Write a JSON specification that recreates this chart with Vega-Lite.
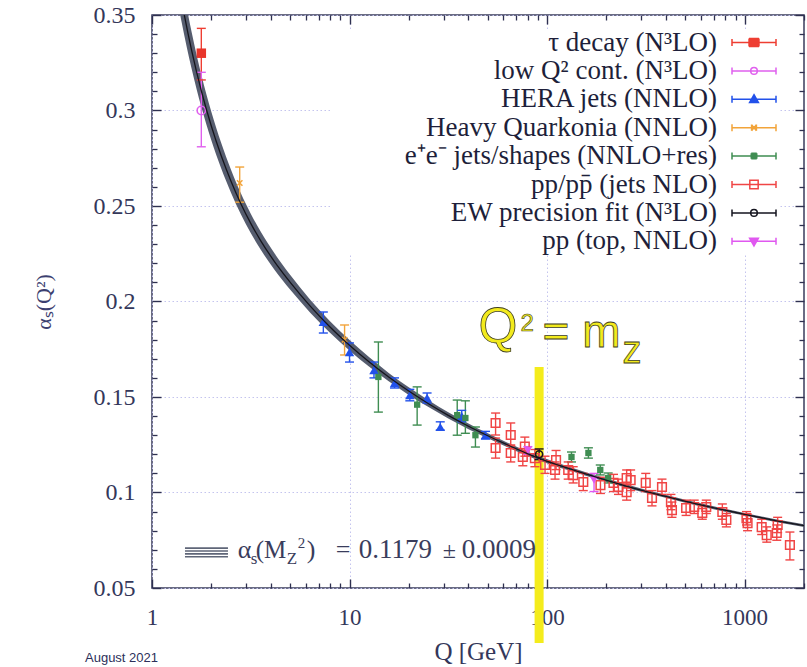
{
  "$schema": "https://vega.github.io/schema/vega-lite/v6.json",
  "width": 652,
  "height": 573,
  "autosize": {"type": "none"},
  "padding": {"left": 152, "top": 15, "right": 3, "bottom": 79},
  "background": "white",
  "config": {
    "font": "Liberation Serif",
    "view": {"stroke": "#3a3d5c", "strokeWidth": 1.5}
  },
  "title": {
    "text": "August 2021",
    "orient": "bottom",
    "anchor": "start",
    "frame": "group",
    "font": "Liberation Sans",
    "fontSize": 13,
    "fontWeight": "normal",
    "color": "#2c2f5a",
    "dx": -67,
    "offset": -12
  },
  "datasets": {
    "curve": [
      {"Q": 1.259, "a": 0.3885, "lo": 0.3755, "hi": 0.4015},
      {"Q": 1.318, "a": 0.3753, "lo": 0.363, "hi": 0.3876},
      {"Q": 1.413, "a": 0.3574, "lo": 0.3462, "hi": 0.3686},
      {"Q": 1.585, "a": 0.3317, "lo": 0.3221, "hi": 0.3413},
      {"Q": 1.778, "a": 0.3102, "lo": 0.3018, "hi": 0.3186},
      {"Q": 1.995, "a": 0.292, "lo": 0.2845, "hi": 0.2995},
      {"Q": 2.239, "a": 0.2764, "lo": 0.2697, "hi": 0.2831},
      {"Q": 2.512, "a": 0.263, "lo": 0.257, "hi": 0.269},
      {"Q": 2.818, "a": 0.2512, "lo": 0.2457, "hi": 0.2567},
      {"Q": 3.162, "a": 0.2409, "lo": 0.2358, "hi": 0.246},
      {"Q": 3.548, "a": 0.2319, "lo": 0.2272, "hi": 0.2366},
      {"Q": 4.169, "a": 0.2209, "lo": 0.2166, "hi": 0.2252},
      {"Q": 5.012, "a": 0.21, "lo": 0.2061, "hi": 0.2139},
      {"Q": 6.31, "a": 0.1977, "lo": 0.1943, "hi": 0.2011},
      {"Q": 7.943, "a": 0.1868, "lo": 0.1838, "hi": 0.1898},
      {"Q": 10, "a": 0.1771, "lo": 0.1744, "hi": 0.1798},
      {"Q": 12.59, "a": 0.1683, "lo": 0.1658, "hi": 0.1708},
      {"Q": 15.85, "a": 0.1603, "lo": 0.1581, "hi": 0.1625},
      {"Q": 19.95, "a": 0.1531, "lo": 0.1511, "hi": 0.1551},
      {"Q": 25.12, "a": 0.1465, "lo": 0.1447, "hi": 0.1483},
      {"Q": 31.62, "a": 0.1404, "lo": 0.1388, "hi": 0.142},
      {"Q": 39.81, "a": 0.1348, "lo": 0.1333, "hi": 0.1363},
      {"Q": 50.12, "a": 0.1297, "lo": 0.1284, "hi": 0.131},
      {"Q": 63.1, "a": 0.1249, "lo": 0.1237, "hi": 0.1261},
      {"Q": 79.43, "a": 0.1204, "lo": 0.1193, "hi": 0.1215},
      {"Q": 91.19, "a": 0.1179, "lo": 0.1168, "hi": 0.119},
      {"Q": 125.9, "a": 0.1129, "lo": 0.1119, "hi": 0.1139},
      {"Q": 158.5, "a": 0.1096, "lo": 0.1087, "hi": 0.1105},
      {"Q": 251.2, "a": 0.1034, "lo": 0.1025, "hi": 0.1043},
      {"Q": 398.1, "a": 0.098, "lo": 0.0972, "hi": 0.0988},
      {"Q": 631, "a": 0.093, "lo": 0.0922, "hi": 0.0938},
      {"Q": 1000, "a": 0.0886, "lo": 0.0879, "hi": 0.0893},
      {"Q": 1585, "a": 0.0845, "lo": 0.0838, "hi": 0.0852},
      {"Q": 2089, "a": 0.0823, "lo": 0.0816, "hi": 0.083}
    ],
    "pts": [
      {"series": "τ decay (N³LO)", "Q": 1.777, "a": 0.33, "lo": 0.316, "hi": 0.343},
      {"series": "low Q² cont. (N³LO)", "Q": 1.777, "a": 0.3, "lo": 0.281, "hi": 0.32},
      {"series": "HERA jets (NNLO)", "Q": 7.37, "a": 0.1893, "lo": 0.1835, "hi": 0.1945},
      {"series": "HERA jets (NNLO)", "Q": 10.0, "a": 0.1735, "lo": 0.1683, "hi": 0.1783},
      {"series": "HERA jets (NNLO)", "Q": 13.3, "a": 0.164, "lo": 0.16, "hi": 0.1683},
      {"series": "HERA jets (NNLO)", "Q": 16.9, "a": 0.1573, "lo": 0.1547, "hi": 0.16},
      {"series": "HERA jets (NNLO)", "Q": 20.2, "a": 0.151, "lo": 0.148, "hi": 0.154},
      {"series": "HERA jets (NNLO)", "Q": 24.7, "a": 0.1495, "lo": 0.1468, "hi": 0.1521},
      {"series": "HERA jets (NNLO)", "Q": 28.8, "a": 0.1343, "lo": 0.1327, "hi": 0.137},
      {"series": "HERA jets (NNLO)", "Q": 37.0, "a": 0.14, "lo": 0.137, "hi": 0.143},
      {"series": "HERA jets (NNLO)", "Q": 48.8, "a": 0.13, "lo": 0.128, "hi": 0.132},
      {"series": "Heavy Quarkonia (NNLO)", "Q": 2.78, "a": 0.262, "lo": 0.252, "hi": 0.2704},
      {"series": "Heavy Quarkonia (NNLO)", "Q": 9.44, "a": 0.18, "lo": 0.172, "hi": 0.1877},
      {"series": "e⁺e⁻ jets/shapes (NNLO+res)", "Q": 14.0, "a": 0.1605, "lo": 0.1421, "hi": 0.1788},
      {"series": "e⁺e⁻ jets/shapes (NNLO+res)", "Q": 22.0, "a": 0.146, "lo": 0.1353, "hi": 0.1553},
      {"series": "e⁺e⁻ jets/shapes (NNLO+res)", "Q": 35.1, "a": 0.1405, "lo": 0.13, "hi": 0.1484},
      {"series": "e⁺e⁻ jets/shapes (NNLO+res)", "Q": 38.6, "a": 0.139, "lo": 0.131, "hi": 0.148},
      {"series": "e⁺e⁻ jets/shapes (NNLO+res)", "Q": 43.4, "a": 0.13, "lo": 0.1238, "hi": 0.1343},
      {"series": "e⁺e⁻ jets/shapes (NNLO+res)", "Q": 133, "a": 0.1186, "lo": 0.116, "hi": 0.1212},
      {"series": "e⁺e⁻ jets/shapes (NNLO+res)", "Q": 162, "a": 0.1207, "lo": 0.118, "hi": 0.1234},
      {"series": "e⁺e⁻ jets/shapes (NNLO+res)", "Q": 186, "a": 0.1118, "lo": 0.1092, "hi": 0.1144},
      {"series": "e⁺e⁻ jets/shapes (NNLO+res)", "Q": 204, "a": 0.1076, "lo": 0.105, "hi": 0.1102},
      {"series": "pp/pp̄ (jets NLO)", "Q": 54.9, "a": 0.1364, "lo": 0.1301, "hi": 0.1416},
      {"series": "pp/pp̄ (jets NLO)", "Q": 54.9, "a": 0.1233, "lo": 0.118, "hi": 0.1285},
      {"series": "pp/pp̄ (jets NLO)", "Q": 65.5, "a": 0.1301, "lo": 0.1244, "hi": 0.1364},
      {"series": "pp/pp̄ (jets NLO)", "Q": 65.5, "a": 0.1207, "lo": 0.116, "hi": 0.1249},
      {"series": "pp/pp̄ (jets NLO)", "Q": 77.2, "a": 0.124, "lo": 0.119, "hi": 0.129},
      {"series": "pp/pp̄ (jets NLO)", "Q": 75.4, "a": 0.1186, "lo": 0.114, "hi": 0.123},
      {"series": "pp/pp̄ (jets NLO)", "Q": 86.8, "a": 0.118, "lo": 0.1135, "hi": 0.1225},
      {"series": "pp/pp̄ (jets NLO)", "Q": 97.7, "a": 0.1144, "lo": 0.11, "hi": 0.119},
      {"series": "pp/pp̄ (jets NLO)", "Q": 111.1, "a": 0.117, "lo": 0.112, "hi": 0.122},
      {"series": "pp/pp̄ (jets NLO)", "Q": 109.8, "a": 0.1118, "lo": 0.107, "hi": 0.116},
      {"series": "pp/pp̄ (jets NLO)", "Q": 128, "a": 0.1118, "lo": 0.107, "hi": 0.116},
      {"series": "pp/pp̄ (jets NLO)", "Q": 135.7, "a": 0.1091, "lo": 0.105, "hi": 0.1135},
      {"series": "pp/pp̄ (jets NLO)", "Q": 152.6, "a": 0.1055, "lo": 0.101, "hi": 0.11},
      {"series": "pp/pp̄ (jets NLO)", "Q": 186.4, "a": 0.1039, "lo": 0.0995, "hi": 0.108},
      {"series": "pp/pp̄ (jets NLO)", "Q": 217, "a": 0.105, "lo": 0.1005, "hi": 0.1095},
      {"series": "pp/pp̄ (jets NLO)", "Q": 253, "a": 0.1076, "lo": 0.1025, "hi": 0.1118},
      {"series": "pp/pp̄ (jets NLO)", "Q": 253, "a": 0.1002, "lo": 0.096, "hi": 0.1045},
      {"series": "pp/pp̄ (jets NLO)", "Q": 230, "a": 0.1029, "lo": 0.099, "hi": 0.107},
      {"series": "pp/pp̄ (jets NLO)", "Q": 265, "a": 0.1065, "lo": 0.101, "hi": 0.1118},
      {"series": "pp/pp̄ (jets NLO)", "Q": 316, "a": 0.105, "lo": 0.1005, "hi": 0.11},
      {"series": "pp/pp̄ (jets NLO)", "Q": 340, "a": 0.0971, "lo": 0.093, "hi": 0.101},
      {"series": "pp/pp̄ (jets NLO)", "Q": 382, "a": 0.1029, "lo": 0.099, "hi": 0.107},
      {"series": "pp/pp̄ (jets NLO)", "Q": 424, "a": 0.095, "lo": 0.091, "hi": 0.099},
      {"series": "pp/pp̄ (jets NLO)", "Q": 429, "a": 0.0908, "lo": 0.087, "hi": 0.095},
      {"series": "pp/pp̄ (jets NLO)", "Q": 506, "a": 0.0919, "lo": 0.088, "hi": 0.096},
      {"series": "pp/pp̄ (jets NLO)", "Q": 556, "a": 0.0924, "lo": 0.089, "hi": 0.096},
      {"series": "pp/pp̄ (jets NLO)", "Q": 611, "a": 0.0893, "lo": 0.086, "hi": 0.093},
      {"series": "pp/pp̄ (jets NLO)", "Q": 640, "a": 0.0924, "lo": 0.089, "hi": 0.096},
      {"series": "pp/pp̄ (jets NLO)", "Q": 772, "a": 0.0898, "lo": 0.086, "hi": 0.094},
      {"series": "pp/pp̄ (jets NLO)", "Q": 809, "a": 0.0856, "lo": 0.082, "hi": 0.089},
      {"series": "pp/pp̄ (jets NLO)", "Q": 1023, "a": 0.0866, "lo": 0.083, "hi": 0.09},
      {"series": "pp/pp̄ (jets NLO)", "Q": 1036, "a": 0.084, "lo": 0.08, "hi": 0.088},
      {"series": "pp/pp̄ (jets NLO)", "Q": 1221, "a": 0.0819, "lo": 0.078, "hi": 0.086},
      {"series": "pp/pp̄ (jets NLO)", "Q": 1295, "a": 0.0777, "lo": 0.074, "hi": 0.082},
      {"series": "pp/pp̄ (jets NLO)", "Q": 1471, "a": 0.083, "lo": 0.079, "hi": 0.087},
      {"series": "pp/pp̄ (jets NLO)", "Q": 1456, "a": 0.0788, "lo": 0.075, "hi": 0.083},
      {"series": "pp/pp̄ (jets NLO)", "Q": 1697, "a": 0.0725, "lo": 0.0647, "hi": 0.0793},
      {"series": "EW precision fit (N³LO)", "Q": 91.19, "a": 0.12, "lo": 0.1172, "hi": 0.1228},
      {"series": "pp (top, NNLO)", "Q": 80, "a": 0.122, "lo": 0.12, "hi": 0.124},
      {"series": "pp (top, NNLO)", "Q": 173, "a": 0.1065, "lo": 0.1005, "hi": 0.11}
    ]
  },
  "resolve": {"axis": {"x": "independent", "y": "independent"}},
  "layer": [
    {
      "data": {"values": [{}]},
      "mark": {"type": "rule", "color": "#f4ec1c", "strokeWidth": 9},
      "encoding": {
        "x": {"datum": 91.19, "type": "quantitative", "axis": null},
        "y": {"datum": 0.1657, "type": "quantitative", "axis": null},
        "y2": {"datum": 0.0212}
      }
    },
    {
      "data": {"name": "curve"},
      "mark": {"type": "area", "color": "#565d6f", "clip": true, "interpolate": "monotone"},
      "encoding": {
        "x": {
          "field": "Q", "type": "quantitative",
          "scale": {"type": "log", "domain": [1, 2000], "nice": false},
          "axis": {
            "orient": "bottom", "values": [1, 10, 100, 1000], "format": "d",
            "ticks": false, "tickSize": 0, "domain": false,
            "labelFont": "Liberation Serif", "labelFontSize": 23, "labelColor": "#34375a",
            "labelPadding": 18, "labelFlush": false, "labelOverlap": false,
            "grid": true, "gridColor": "#c4c4ee", "gridDash": [1.5, 2.5], "gridWidth": 1,
            "title": "Q [GeV]", "titleFont": "Liberation Serif", "titleFontSize": 25,
            "titleFontWeight": "normal", "titleColor": "#34375a", "titlePadding": 10
          }
        },
        "y": {
          "field": "lo", "type": "quantitative",
          "scale": {"domain": [0.05, 0.35], "nice": false, "zero": false},
          "axis": {
            "orient": "left", "values": [0.05, 0.1, 0.15, 0.2, 0.25, 0.3, 0.35], "format": ".2~f",
            "ticks": false, "tickSize": 0, "domain": false,
            "labelFont": "Liberation Serif", "labelFontSize": 24, "labelColor": "#34375a",
            "labelPadding": 17, "labelOverlap": false,
            "grid": true, "gridColor": "#c4c4ee", "gridDash": [1.5, 2.5], "gridWidth": 1,
            "title": "αₛ(Q²)", "titleFont": "Liberation Serif", "titleFontSize": 22,
            "titleFontWeight": "normal", "titleColor": "#3c3f70", "titlePadding": 38
          }
        },
        "y2": {"field": "hi"}
      }
    },
    {
      "data": {"name": "pts"},
      "mark": {"type": "point", "filled": false, "opacity": 0, "strokeWidth": 1.5},
      "encoding": {
        "x": {
          "field": "Q", "type": "quantitative",
          "axis": {"orient": "top", "values": [1, 10, 100, 1000], "labels": false, "domain": false, "grid": false, "ticks": true, "tickSize": -9, "tickWidth": 1.4, "tickColor": "#2e3050", "title": null}
        },
        "y": {
          "field": "a", "type": "quantitative",
          "axis": {"orient": "right", "values": [0.05, 0.1, 0.15, 0.2, 0.25, 0.3, 0.35], "labels": false, "domain": false, "grid": false, "ticks": true, "tickSize": -9, "tickWidth": 1.4, "tickColor": "#2e3050", "title": null}
        },
        "color": {
          "field": "series", "type": "nominal",
          "scale": {
            "domain": ["τ decay (N³LO)", "low Q² cont. (N³LO)", "HERA jets (NNLO)", "Heavy Quarkonia (NNLO)", "e⁺e⁻ jets/shapes (NNLO+res)", "pp/pp̄ (jets NLO)", "EW precision fit (N³LO)", "pp (top, NNLO)"],
            "range": ["#ee3e32", "#e060ee", "#2251ea", "#f2a43a", "#3f8d52", "#f04545", "#15151f", "#e058f0"]
          },
          "legend": {
            "orient": "none", "legendX": 180, "legendY": 14, "title": null, "direction": "vertical",
            "labelFont": "Liberation Serif", "labelFontSize": 27, "labelColor": "#1e1f3a",
            "labelAlign": "right", "labelOffset": -50.5, "symbolOffset": 408.5, "labelLimit": 600,
            "symbolSize": 484, "symbolStrokeWidth": 1.5, "symbolOpacity": 1,
            "rowPadding": 0.4, "fillColor": "white", "padding": 0
          }
        },
        "shape": {
          "field": "series", "type": "nominal",
          "scale": {
            "domain": ["τ decay (N³LO)", "low Q² cont. (N³LO)", "HERA jets (NNLO)", "Heavy Quarkonia (NNLO)", "e⁺e⁻ jets/shapes (NNLO+res)", "pp/pp̄ (jets NLO)", "EW precision fit (N³LO)", "pp (top, NNLO)"],
            "range": [
              "M-2,0H2M-2,-0.32V0.32M2,-0.32V0.32M-0.45,-0.36H0.45M-0.45,-0.24H0.45M-0.45,-0.12H0.45M-0.45,0.12H0.45M-0.45,0.24H0.45M-0.45,0.36H0.45M-0.45,-0.36V0.36M0.45,-0.36V0.36",
              "M-2,0H2M-2,-0.32V0.32M2,-0.32V0.32M-0.3,0A0.3,0.3 0 1 1 0.3,0A0.3,0.3 0 1 1 -0.3,0",
              "M-2,0H2M-2,-0.32V0.32M2,-0.32V0.32M0,-0.42L0.4,0.28L-0.4,0.28ZM-0.069,-0.3H0.069M-0.137,-0.18H0.137M-0.206,-0.06H0.206M-0.274,0.06H0.274M-0.343,0.18H0.343",
              "M-2,0H2M-2,-0.32V0.32M2,-0.32V0.32M-0.22,-0.28L0.22,0.28M-0.22,0.28L0.22,-0.28M-0.22,-0.28V0.28M0.22,-0.28V0.28",
              "M-2,0H2M-2,-0.32V0.32M2,-0.32V0.32M-0.25,-0.25H0.25M-0.25,-0.12H0.25M-0.25,0.12H0.25M-0.25,0.25H0.25M-0.25,-0.25V0.25M0.25,-0.25V0.25",
              "M-2,0H2M-2,-0.32V0.32M2,-0.32V0.32M-0.38,-0.38H0.38V0.38H-0.38Z",
              "M-2,0H2M-2,-0.32V0.32M2,-0.32V0.32M-0.3,0A0.3,0.3 0 1 1 0.3,0A0.3,0.3 0 1 1 -0.3,0",
              "M-2,0H2M-2,-0.32V0.32M2,-0.32V0.32M0,0.42L0.4,-0.28L-0.4,-0.28ZM-0.069,0.3H0.069M-0.137,0.18H0.137M-0.206,0.06H0.206M-0.274,-0.06H0.274M-0.343,-0.18H0.343"
            ]
          },
          "legend": {
            "orient": "none", "legendX": 180, "legendY": 14, "title": null, "direction": "vertical",
            "labelFont": "Liberation Serif", "labelFontSize": 27, "labelColor": "#1e1f3a",
            "labelAlign": "right", "labelOffset": -50.5, "symbolOffset": 408.5, "labelLimit": 600,
            "symbolSize": 484, "symbolStrokeWidth": 1.5, "symbolOpacity": 1,
            "rowPadding": 0.4, "fillColor": "white", "padding": 0
          }
        }
      }
    },
    {
      "data": {"name": "pts"},
      "mark": {"type": "rule", "strokeWidth": 1.4},
      "encoding": {
        "x": {"field": "Q", "type": "quantitative", "axis": null},
        "y": {"field": "lo", "type": "quantitative", "axis": null},
        "y2": {"field": "hi"},
        "color": {"field": "series", "type": "nominal"}
      }
    },
    {
      "data": {"name": "pts"},
      "mark": {"type": "point", "shape": "M-1,0H1", "size": 81, "strokeWidth": 1.4, "filled": false, "opacity": 1},
      "encoding": {
        "x": {"field": "Q", "type": "quantitative", "axis": null},
        "y": {"field": "lo", "type": "quantitative", "axis": null},
        "color": {"field": "series", "type": "nominal"}
      }
    },
    {
      "data": {"name": "pts"},
      "mark": {"type": "point", "shape": "M-1,0H1", "size": 81, "strokeWidth": 1.4, "filled": false, "opacity": 1},
      "encoding": {
        "x": {"field": "Q", "type": "quantitative", "axis": null},
        "y": {"field": "hi", "type": "quantitative", "axis": null},
        "color": {"field": "series", "type": "nominal"}
      }
    },
    {
      "data": {"name": "pts"},
      "transform": [{"filter": {"field": "series", "equal": "pp/pp̄ (jets NLO)"}}],
      "mark": {"type": "point", "shape": "square", "size": 75, "filled": false, "strokeWidth": 1.5, "color": "#f04545", "opacity": 1},
      "encoding": {
        "x": {
          "field": "Q", "type": "quantitative",
          "axis": {"orient": "bottom", "values": [2, 3, 4, 5, 6, 7, 8, 9, 20, 30, 40, 50, 60, 70, 80, 90, 200, 300, 400, 500, 600, 700, 800, 900, 2000], "labels": false, "domain": false, "grid": false, "ticks": true, "tickSize": -5, "tickWidth": 1.3, "tickColor": "#2e3050", "title": null}
        },
        "y": {
          "field": "a", "type": "quantitative",
          "axis": {"orient": "left", "values": [0.06, 0.07, 0.08, 0.09, 0.11, 0.12, 0.13, 0.14, 0.16, 0.17, 0.18, 0.19, 0.21, 0.22, 0.23, 0.24, 0.26, 0.27, 0.28, 0.29, 0.31, 0.32, 0.33, 0.34], "labels": false, "domain": false, "grid": false, "ticks": true, "tickSize": -5, "tickWidth": 1.3, "tickColor": "#2e3050", "title": null}
        }
      }
    },
    {
      "data": {"name": "pts"},
      "transform": [{"filter": {"field": "series", "equal": "HERA jets (NNLO)"}}],
      "mark": {"type": "point", "shape": "triangle-up", "size": 90, "filled": true, "color": "#2251ea", "opacity": 1},
      "encoding": {
        "x": {
          "field": "Q", "type": "quantitative",
          "axis": {"orient": "top", "values": [2, 3, 4, 5, 6, 7, 8, 9, 20, 30, 40, 50, 60, 70, 80, 90, 200, 300, 400, 500, 600, 700, 800, 900, 2000], "labels": false, "domain": false, "grid": false, "ticks": true, "tickSize": -5, "tickWidth": 1.3, "tickColor": "#2e3050", "title": null}
        },
        "y": {
          "field": "a", "type": "quantitative",
          "axis": {"orient": "right", "values": [0.06, 0.07, 0.08, 0.09, 0.11, 0.12, 0.13, 0.14, 0.16, 0.17, 0.18, 0.19, 0.21, 0.22, 0.23, 0.24, 0.26, 0.27, 0.28, 0.29, 0.31, 0.32, 0.33, 0.34], "labels": false, "domain": false, "grid": false, "ticks": true, "tickSize": -5, "tickWidth": 1.3, "tickColor": "#2e3050", "title": null}
        }
      }
    },
    {
      "data": {"name": "pts"},
      "transform": [{"filter": {"field": "series", "equal": "τ decay (N³LO)"}}],
      "mark": {"type": "point", "shape": "square", "size": 90, "filled": true, "color": "#e8352a", "opacity": 1},
      "encoding": {
        "x": {"field": "Q", "type": "quantitative", "axis": null},
        "y": {"field": "a", "type": "quantitative", "axis": null}
      }
    },
    {
      "data": {"name": "pts"},
      "transform": [{"filter": {"field": "series", "equal": "low Q² cont. (N³LO)"}}],
      "mark": {"type": "point", "shape": "circle", "size": 70, "filled": false, "strokeWidth": 1.6, "color": "#e060ee", "opacity": 1},
      "encoding": {
        "x": {"field": "Q", "type": "quantitative", "axis": null},
        "y": {"field": "a", "type": "quantitative", "axis": null}
      }
    },
    {
      "data": {"name": "pts"},
      "transform": [{"filter": {"field": "series", "equal": "Heavy Quarkonia (NNLO)"}}],
      "mark": {"type": "point", "shape": "M-1,-1L1,1M-1,1L1,-1", "size": 30, "filled": false, "strokeWidth": 1.5, "color": "#f2a43a", "opacity": 1},
      "encoding": {
        "x": {"field": "Q", "type": "quantitative", "axis": null},
        "y": {"field": "a", "type": "quantitative", "axis": null}
      }
    },
    {
      "data": {"name": "pts"},
      "transform": [{"filter": {"field": "series", "equal": "e⁺e⁻ jets/shapes (NNLO+res)"}}],
      "mark": {"type": "point", "shape": "square", "size": 40, "filled": true, "color": "#3f8d52", "opacity": 1},
      "encoding": {
        "x": {"field": "Q", "type": "quantitative", "axis": null},
        "y": {"field": "a", "type": "quantitative", "axis": null}
      }
    },
    {
      "data": {"name": "pts"},
      "transform": [{"filter": {"field": "series", "equal": "EW precision fit (N³LO)"}}],
      "mark": {"type": "point", "shape": "circle", "size": 50, "filled": false, "strokeWidth": 1.6, "color": "#15151f", "opacity": 1},
      "encoding": {
        "x": {"field": "Q", "type": "quantitative", "axis": null},
        "y": {"field": "a", "type": "quantitative", "axis": null}
      }
    },
    {
      "data": {"name": "pts"},
      "transform": [{"filter": {"field": "series", "equal": "pp (top, NNLO)"}}],
      "mark": {"type": "point", "shape": "triangle-down", "size": 70, "filled": true, "color": "#e058f0", "opacity": 1},
      "encoding": {
        "x": {"field": "Q", "type": "quantitative", "axis": null},
        "y": {"field": "a", "type": "quantitative", "axis": null}
      }
    },
    {
      "data": {"name": "curve"},
      "mark": {"type": "line", "color": "#15151c", "strokeWidth": 1.3, "clip": true, "interpolate": "monotone"},
      "encoding": {
        "x": {
          "field": "Q", "type": "quantitative",
          "axis": {"orient": "bottom", "values": [1, 10, 100, 1000], "labels": false, "domain": false, "grid": false, "ticks": true, "tickSize": -9, "tickWidth": 1.4, "tickColor": "#2e3050", "title": null}
        },
        "y": {
          "field": "a", "type": "quantitative",
          "axis": {"orient": "left", "values": [0.05, 0.1, 0.15, 0.2, 0.25, 0.3, 0.35], "labels": false, "domain": false, "grid": false, "ticks": true, "tickSize": -9, "tickWidth": 1.4, "tickColor": "#2e3050", "title": null}
        }
      }
    },
    {
      "data": {"values": [{}]},
      "mark": {"type": "point", "shape": "M-1,-0.2H1M-1,-0.067H1M-1,0.067H1M-1,0.2H1", "size": 1849, "filled": false, "strokeWidth": 1.6, "color": "#5f6678", "opacity": 1},
      "encoding": {
        "x": {"datum": 1.887, "type": "quantitative", "axis": null},
        "y": {"datum": 0.0686, "type": "quantitative", "axis": null}
      }
    },
    {
      "data": {"values": [{}]},
      "mark": {"type": "text", "text": "α", "font": "Liberation Serif", "fontSize": 26, "align": "left", "baseline": "alphabetic", "color": "#3a3d5c"},
      "encoding": {
        "x": {"datum": 2.715, "type": "quantitative", "axis": null},
        "y": {"datum": 0.0657, "type": "quantitative", "axis": null}
      }
    },
    {
      "data": {"values": [{}]},
      "mark": {"type": "text", "text": "s", "font": "Liberation Serif", "fontSize": 17, "align": "left", "baseline": "alphabetic", "color": "#3a3d5c", "dx": 13, "dy": 6},
      "encoding": {
        "x": {"datum": 2.715, "type": "quantitative", "axis": null},
        "y": {"datum": 0.0657, "type": "quantitative", "axis": null}
      }
    },
    {
      "data": {"values": [{}]},
      "mark": {"type": "text", "text": "(M", "font": "Liberation Serif", "fontSize": 25, "align": "left", "baseline": "alphabetic", "color": "#3a3d5c", "dx": 18},
      "encoding": {
        "x": {"datum": 2.715, "type": "quantitative", "axis": null},
        "y": {"datum": 0.0657, "type": "quantitative", "axis": null}
      }
    },
    {
      "data": {"values": [{}]},
      "mark": {"type": "text", "text": "Z", "font": "Liberation Serif", "fontSize": 17, "align": "left", "baseline": "alphabetic", "color": "#3a3d5c", "dx": 49, "dy": 6},
      "encoding": {
        "x": {"datum": 2.715, "type": "quantitative", "axis": null},
        "y": {"datum": 0.0657, "type": "quantitative", "axis": null}
      }
    },
    {
      "data": {"values": [{}]},
      "mark": {"type": "text", "text": "2", "font": "Liberation Serif", "fontSize": 15, "align": "left", "baseline": "alphabetic", "color": "#3a3d5c", "dx": 60, "dy": -10},
      "encoding": {
        "x": {"datum": 2.715, "type": "quantitative", "axis": null},
        "y": {"datum": 0.0657, "type": "quantitative", "axis": null}
      }
    },
    {
      "data": {"values": [{}]},
      "mark": {"type": "text", "text": ")", "font": "Liberation Serif", "fontSize": 26, "align": "left", "baseline": "alphabetic", "color": "#3a3d5c", "dx": 69},
      "encoding": {
        "x": {"datum": 2.715, "type": "quantitative", "axis": null},
        "y": {"datum": 0.0657, "type": "quantitative", "axis": null}
      }
    },
    {
      "data": {"values": [{}]},
      "mark": {"type": "text", "text": "=", "font": "Liberation Serif", "fontSize": 26, "align": "left", "baseline": "alphabetic", "color": "#3a3d5c", "dx": 98},
      "encoding": {
        "x": {"datum": 2.715, "type": "quantitative", "axis": null},
        "y": {"datum": 0.0657, "type": "quantitative", "axis": null}
      }
    },
    {
      "data": {"values": [{}]},
      "mark": {"type": "text", "text": "0.1179", "font": "Liberation Serif", "fontSize": 27, "align": "left", "baseline": "alphabetic", "color": "#3a3d5c", "dx": 121},
      "encoding": {
        "x": {"datum": 2.715, "type": "quantitative", "axis": null},
        "y": {"datum": 0.0657, "type": "quantitative", "axis": null}
      }
    },
    {
      "data": {"values": [{}]},
      "mark": {"type": "text", "text": "±", "font": "Liberation Serif", "fontSize": 24, "align": "left", "baseline": "alphabetic", "color": "#3a3d5c", "dx": 205},
      "encoding": {
        "x": {"datum": 2.715, "type": "quantitative", "axis": null},
        "y": {"datum": 0.0657, "type": "quantitative", "axis": null}
      }
    },
    {
      "data": {"values": [{}]},
      "mark": {"type": "text", "text": "0.0009", "font": "Liberation Serif", "fontSize": 27, "align": "left", "baseline": "alphabetic", "color": "#3a3d5c", "dx": 224},
      "encoding": {
        "x": {"datum": 2.715, "type": "quantitative", "axis": null},
        "y": {"datum": 0.0657, "type": "quantitative", "axis": null}
      }
    },
    {
      "data": {"values": [{}]},
      "mark": {"type": "text", "text": "Q", "font": "Liberation Sans", "fontSize": 50, "align": "left", "baseline": "alphabetic", "fill": "#f2ea1d", "stroke": "#3d3d24", "strokeWidth": 0.8},
      "encoding": {
        "x": {"datum": 45, "type": "quantitative", "axis": null},
        "y": {"datum": 0.1783, "type": "quantitative", "axis": null}
      }
    },
    {
      "data": {"values": [{}]},
      "mark": {"type": "text", "text": "2", "font": "Liberation Sans", "fontSize": 24, "align": "left", "baseline": "alphabetic", "fill": "#f2ea1d", "stroke": "#3d3d24", "strokeWidth": 0.6, "dx": 42, "dy": -12},
      "encoding": {
        "x": {"datum": 45, "type": "quantitative", "axis": null},
        "y": {"datum": 0.1783, "type": "quantitative", "axis": null}
      }
    },
    {
      "data": {"values": [{}]},
      "mark": {"type": "text", "text": "= m", "font": "Liberation Sans", "fontSize": 46, "align": "left", "baseline": "alphabetic", "fill": "#f2ea1d", "stroke": "#3d3d24", "strokeWidth": 0.8, "dx": 64, "dy": 4},
      "encoding": {
        "x": {"datum": 45, "type": "quantitative", "axis": null},
        "y": {"datum": 0.1783, "type": "quantitative", "axis": null}
      }
    },
    {
      "data": {"values": [{}]},
      "mark": {"type": "text", "text": "z", "font": "Liberation Sans", "fontSize": 38, "align": "left", "baseline": "alphabetic", "fill": "#f2ea1d", "stroke": "#3d3d24", "strokeWidth": 0.8, "dx": 144, "dy": 20},
      "encoding": {
        "x": {"datum": 45, "type": "quantitative", "axis": null},
        "y": {"datum": 0.1783, "type": "quantitative", "axis": null}
      }
    }
  ]
}
